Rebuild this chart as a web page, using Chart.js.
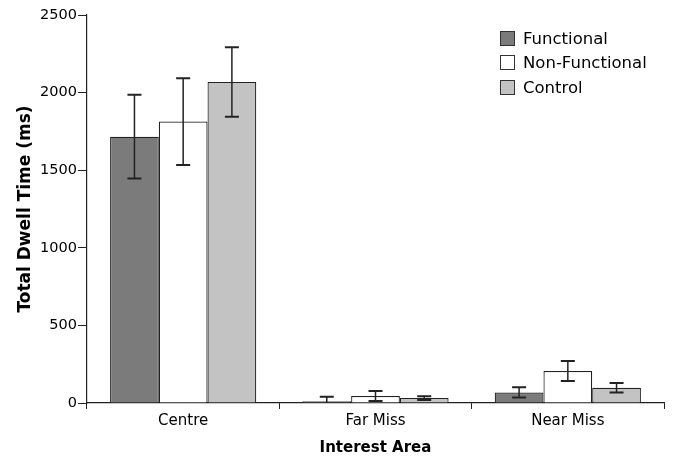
<!DOCTYPE html>
<html>
<head>
<meta charset="utf-8">
<script src="https://cdn.jsdelivr.net/npm/chart.js@4.4.1/dist/chart.umd.min.js"></script>
<style>
  html, body { margin: 0; padding: 0; background: #fff; }
  #wrap { position: relative; width: 673px; height: 460px; }
  #legend { position: absolute; left: 500px; top: 26px; font-family: "DejaVu Sans", sans-serif; font-size: 16.5px; color: #000; }
  .item { display: flex; align-items: center; height: 24.5px; }
  .box { width: 13px; height: 13px; border: 1px solid #333; margin-right: 8px; box-sizing: content-box; }
</style>
</head>
<body>
<div id="wrap">
  <canvas id="c" width="673" height="460"></canvas>
  <div id="legend"></div>
</div>
<script>
const categories = ['Centre', 'Far Miss', 'Near Miss'];
const seriesNames = ['Functional', 'Non-Functional', 'Control'];
const functional = [1716, 12, 68];
const functionalErr = [270, 28, 33];
const nonFunctional = [1813, 45, 206];
const nonFunctionalErr = [280, 32, 64];
const control = [2068, 32, 98];
const controlErr = [224, 12, 31];
const yTicks = [0, 500, 1000, 1500, 2000, 2500];

const fills = ['#7b7b7b', '#ffffff', '#c3c3c3'];
const values = [functional, nonFunctional, control];
const errors = [functionalErr, nonFunctionalErr, controlErr];

const errorBars = {
  id: 'errorBars',
  afterDatasetsDraw(chart) {
    const ctx = chart.ctx;
    const y = chart.scales.y;
    const area = chart.chartArea;
    ctx.save();
    ctx.beginPath();
    ctx.rect(area.left, area.top - 20, area.right - area.left, area.bottom - area.top + 20);
    ctx.clip();
    ctx.strokeStyle = '#222';
    chart.data.datasets.forEach((ds, di) => {
      const meta = chart.getDatasetMeta(di);
      meta.data.forEach((bar, i) => {
        const v = ds.data[i];
        const e = ds.err[i];
        const x = bar.x;
        const yt = y.getPixelForValue(v + e);
        const yb = y.getPixelForValue(v - e);
        ctx.lineWidth = 1.5;
        ctx.beginPath();
        ctx.moveTo(x, yt); ctx.lineTo(x, yb); ctx.stroke();
        ctx.lineWidth = 2;
        ctx.beginPath();
        ctx.moveTo(x - 7, yt); ctx.lineTo(x + 7, yt);
        ctx.moveTo(x - 7, yb); ctx.lineTo(x + 7, yb);
        ctx.stroke();
      });
    });
    ctx.restore();
  }
};

const datasets = seriesNames.map((name, i) => ({
  label: name,
  data: values[i],
  err: errors[i],
  backgroundColor: fills[i],
  borderColor: '#222',
  borderWidth: 1.2,
  categoryPercentage: 0.76,
  barPercentage: 1.0
}));

new Chart(document.getElementById('c'), {
  type: 'bar',
  data: { labels: categories, datasets },
  options: {
    responsive: false,
    animation: false,
    layout: { padding: { top: 15, right: 9, left: 0, bottom: 0 } },
    plugins: { legend: { display: false }, tooltip: { enabled: false } },
    scales: {
      x: {
        afterFit(s) { s.height = 57; },
        grid: { display: true, drawOnChartArea: false, color: '#222', tickLength: 6, offset: true },
        border: { color: '#222', width: 1.2 },
        ticks: { color: '#000', font: { family: 'DejaVu Sans', size: 15 }, padding: 3 },
        title: { display: true, text: 'Interest Area', color: '#000', font: { family: 'DejaVu Sans', size: 15, weight: 'bold' }, padding: { top: 0, bottom: 3 } }
      },
      y: {
        min: 0, max: 2500,
        afterFit(s) { s.width = 87; },
        afterBuildTicks(s) { s.ticks = yTicks.map(v => ({ value: v })); },
        grid: { display: true, drawOnChartArea: false, color: '#222', tickLength: 9 },
        border: { color: '#222', width: 1.2 },
        ticks: { color: '#000', font: { family: 'DejaVu Sans', size: 14.5 }, padding: 1, callback: (v) => String(v) },
        title: { display: true, text: 'Total Dwell Time (ms)', color: '#000', font: { family: 'DejaVu Sans', size: 17, weight: 'bold' }, padding: { top: 15, bottom: 0 } }
      }
    }
  },
  plugins: [errorBars]
});

const legend = document.getElementById('legend');
seriesNames.forEach((name, i) => {
  const item = document.createElement('div');
  item.className = 'item';
  const box = document.createElement('span');
  box.className = 'box';
  box.style.background = fills[i];
  const txt = document.createElement('span');
  txt.textContent = name;
  item.appendChild(box); item.appendChild(txt);
  legend.appendChild(item);
});
</script>
</body>
</html>
